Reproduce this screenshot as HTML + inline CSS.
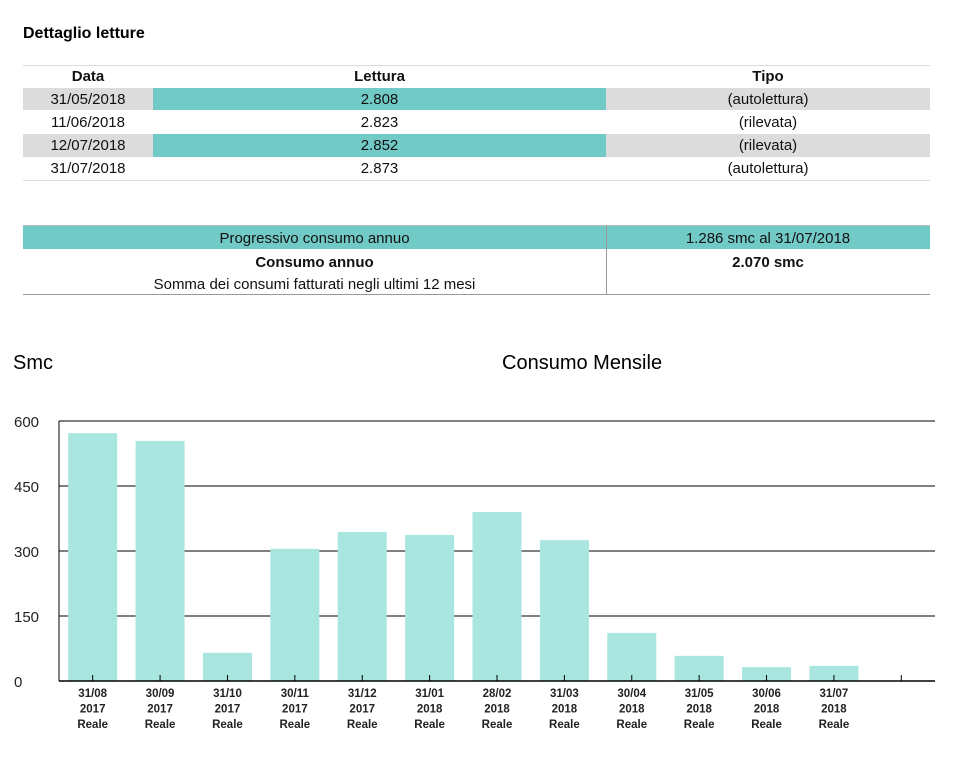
<!DOCTYPE html>
<html><head><meta charset="utf-8"><style>
body{margin:0;width:956px;height:763px;background:#fff;font-family:"Liberation Sans","DejaVu Sans",sans-serif;position:relative;overflow:hidden}
.a{position:absolute}
.c{position:absolute;text-align:center;font-size:15px;color:#111;line-height:24px}
.b{font-weight:bold}
</style></head><body>
<div class="a b" style="left:23px;top:25px;font-size:16px">Dettaglio letture</div>
<div class="a" style="left:23px;top:65px;width:907px;height:1px;background:#ddd"></div>
<div>
<div class="c b" style="left:23px;top:65px;width:130px">Data</div>
<div class="c b" style="left:153px;top:65px;width:453px">Lettura</div>
<div class="c b" style="left:606px;top:65px;width:324px">Tipo</div>
<div class="a" style="left:23px;top:88px;width:130px;height:22px;background:#dcdcdc"></div>
<div class="a" style="left:153px;top:88px;width:453px;height:22px;background:#72cac7"></div>
<div class="a" style="left:606px;top:88px;width:324px;height:22px;background:#dcdcdc"></div>
<div class="a" style="left:23px;top:134px;width:130px;height:23px;background:#dcdcdc"></div>
<div class="a" style="left:153px;top:134px;width:453px;height:23px;background:#72cac7"></div>
<div class="a" style="left:606px;top:134px;width:324px;height:23px;background:#dcdcdc"></div>
<div class="c" style="left:23px;top:88px;width:130px">31/05/2018</div>
<div class="c" style="left:153px;top:88px;width:453px">2.808</div>
<div class="c" style="left:606px;top:88px;width:324px">(autolettura)</div>
<div class="c" style="left:23px;top:111px;width:130px">11/06/2018</div>
<div class="c" style="left:153px;top:111px;width:453px">2.823</div>
<div class="c" style="left:606px;top:111px;width:324px">(rilevata)</div>
<div class="c" style="left:23px;top:134px;width:130px">12/07/2018</div>
<div class="c" style="left:153px;top:134px;width:453px">2.852</div>
<div class="c" style="left:606px;top:134px;width:324px">(rilevata)</div>
<div class="c" style="left:23px;top:157px;width:130px">31/07/2018</div>
<div class="c" style="left:153px;top:157px;width:453px">2.873</div>
<div class="c" style="left:606px;top:157px;width:324px">(autolettura)</div>
<div class="a" style="left:23px;top:180px;width:907px;height:1px;background:#ddd"></div>
</div>
<div>
<div class="a" style="left:23px;top:225px;width:907px;height:1px;background:#bbb"></div>
<div class="a" style="left:23px;top:226px;width:907px;height:23px;background:#72cac7"></div>
<div class="a" style="left:606px;top:225px;width:1px;height:69px;background:#999"></div>
<div class="c" style="left:23px;top:227px;width:583px">Progressivo consumo annuo</div>
<div class="c" style="left:606px;top:227px;width:324px">1.286 smc al 31/07/2018</div>
<div class="c b" style="left:23px;top:251px;width:583px">Consumo annuo</div>
<div class="c b" style="left:606px;top:251px;width:324px">2.070 smc</div>
<div class="c" style="left:23px;top:273px;width:583px">Somma dei consumi fatturati negli ultimi 12 mesi</div>
<div class="a" style="left:23px;top:294px;width:907px;height:1px;background:#999"></div>
</div>
<div class="a" style="left:13px;top:352px;font-size:20px">Smc</div>
<div class="a" style="left:502px;top:352px;font-size:20px">Consumo Mensile</div>
<svg class="a" style="left:0;top:0" width="956" height="763" id="chart"></svg>
<script>
const dates=["31/08","30/09","31/10","30/11","31/12","31/01","28/02","31/03","30/04","31/05","30/06","31/07"];
const years=["2017","2017","2017","2017","2017","2018","2018","2018","2018","2018","2018","2018"];
const values=[572,554,65,305,344,337,390,325,111,58,32,35];
const ticks=[0,150,300,450,600];
const NS="http://www.w3.org/2000/svg",svg=document.getElementById('chart');
const x0=59,x1=935,y0=681,yTop=421,slots=13,slotW=(x1-x0)/slots;
const y=v=>y0-(v/600)*(y0-yTop);
const xc=i=>x0+slotW*(i+0.5);
function mk(t,a){const e=document.createElementNS(NS,t);for(const k in a)e.setAttribute(k,a[k]);svg.appendChild(e);return e;}
ticks.forEach(t=>{
 if(t>0){const l=mk('line',{x1:x0,x2:x1,y1:y(t),y2:y(t),stroke:'#000','stroke-width':1});
 
 }
 const tx=mk('text',{x:14,y:y(t)+6,'font-size':15,fill:'#222','font-family':'Liberation Sans, sans-serif'});
 tx.textContent=t;
 
 
});
values.forEach((v,i)=>{
 const r=mk('rect',{x:xc(i)-24.5,y:y(v),width:49,height:y0-y(v),fill:'#a8e6df'});
 
 
 [dates[i],years[i],'Reale'].forEach((s,j)=>{
  const t=mk('text',{x:xc(i),y:697+j*15.5,'font-size':11.5,'font-weight':'bold','text-anchor':'middle',fill:'#222','font-family':'Liberation Sans, sans-serif'});
  t.textContent=s;
  
  
 });
});
for(let i=0;i<slots;i++){const tk=mk('line',{x1:xc(i),x2:xc(i),y1:y0-6,y2:y0,stroke:'#000'});
 
 }
const ax=mk('line',{x1:x0,x2:x0,y1:yTop,y2:y0,stroke:'#000','stroke-width':1});


const bx=mk('line',{x1:x0,x2:x1,y1:y0,y2:y0,stroke:'#000','stroke-width':1.5});


</script>
</body></html>
